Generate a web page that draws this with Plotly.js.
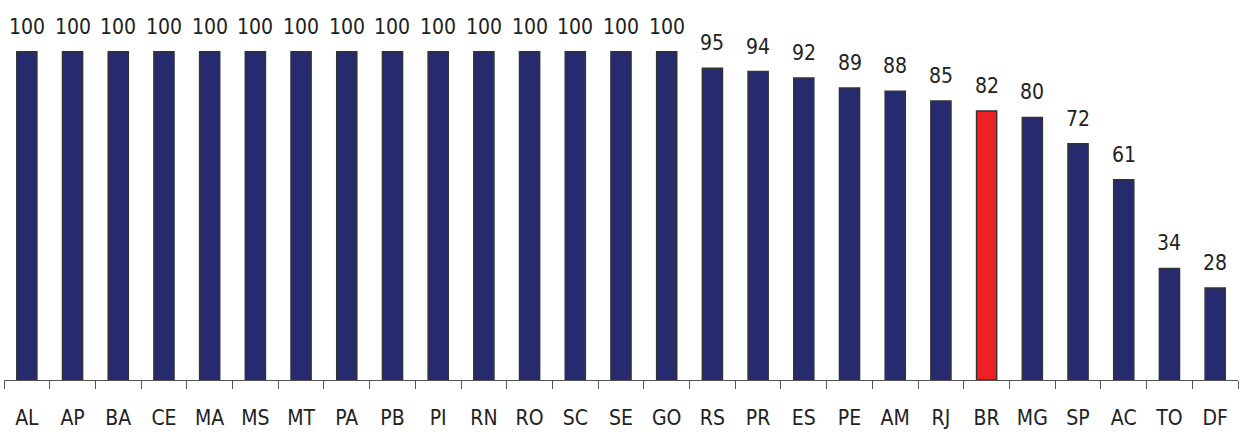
<!DOCTYPE html>
<html><head><meta charset="utf-8">
<script src="https://cdn.plot.ly/plotly-3.0.1.min.js"></script>
<style>html,body{margin:0;padding:0;background:#fff}#chart{width:1246px;height:438px}</style>
</head><body><div id="chart"></div>
<script>
const categories = ["AL","AP","BA","CE","MA","MS","MT","PA","PB","PI","RN","RO","SC","SE","GO","RS","PR","ES","PE","AM","RJ","BR","MG","SP","AC","TO","DF"];
const values = [100,100,100,100,100,100,100,100,100,100,100,100,100,100,100,95,94,92,89,88,85,82,80,72,61,34,28];
const highlight = "BR";

const navy = "#262a6e", red = "#ee2024";
const colors = categories.map(c => c === highlight ? red : navy);
const FONT = "'DejaVu Sans Condensed', 'Liberation Sans Narrow', sans-serif";

const trace = {
  type: "bar", x: categories, y: values,
  marker: {color: colors, line: {color: "#333333", width: 1.5}},
  hoverinfo: "skip"
};
const annotations = categories.map((c, i) => ({
  x: c, y: values[i], xref: "x", yref: "y",
  text: String(values[i]), showarrow: false,
  yanchor: "bottom", yshift: 11,
  font: {family: FONT, size: 21, color: "#222222"}
}));
const layout = {
  width: 1246, height: 438,
  margin: {l: 4, r: 8, t: 19, b: 58},
  paper_bgcolor: "#fff", plot_bgcolor: "#fff",
  bargap: 0.56, showlegend: false,
  xaxis: {
    type: "category", range: [-0.5, 26.5],
    showline: true, linecolor: "#555", linewidth: 1,
    ticks: "outside", tickson: "boundaries", ticklen: 8, tickcolor: "#555", tickwidth: 1,
    showgrid: false, zeroline: false,
    tickfont: {family: FONT, size: 21, color: "#222222"},
    ticklabelstandoff: 19
  },
  yaxis: {range: [0, 110], visible: false, showgrid: false, zeroline: false},
  annotations: annotations
};
Plotly.newPlot("chart", [trace], layout, {staticPlot: true, displayModeBar: false});
</script></body></html>
